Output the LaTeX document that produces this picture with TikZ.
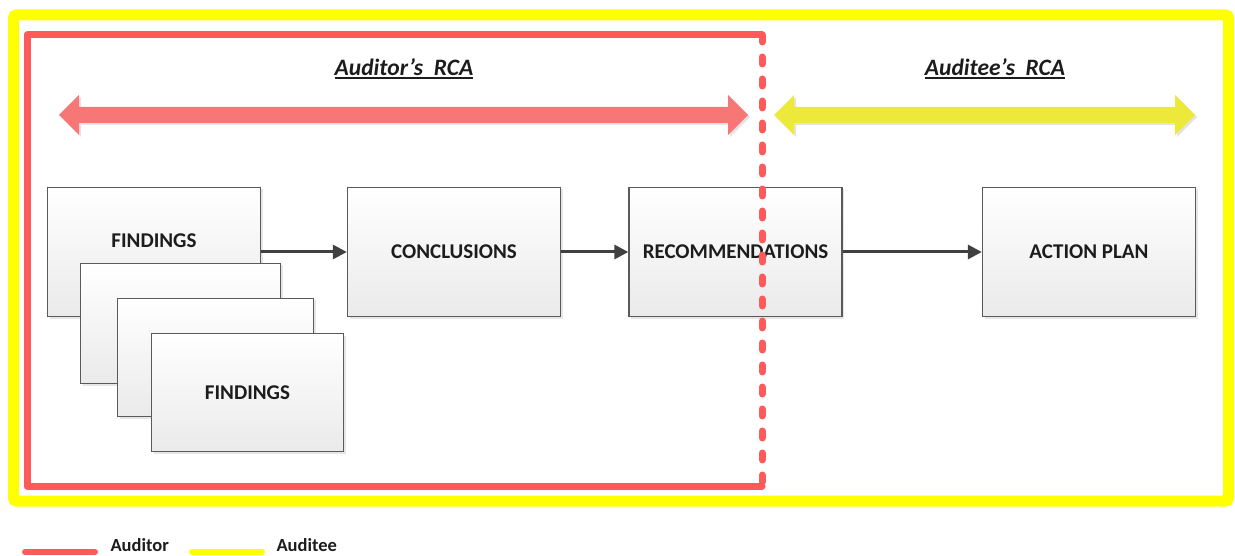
\documentclass[tikz,border=0pt]{standalone}
\usepackage{fontspec}
\setmainfont{Carlito}
\usetikzlibrary{arrows.meta,shadows}

\definecolor{frameyellow}{HTML}{FFFF00}
\definecolor{auditred}{HTML}{FF5A5A}
\definecolor{redband}{HTML}{F77676}
\definecolor{yellowband}{HTML}{ECE93A}
\definecolor{boxline}{HTML}{5A5A5A}
\definecolor{boxgray}{HTML}{EAEAEA}
\definecolor{flowarrow}{HTML}{404040}
\definecolor{ink}{HTML}{1C1C1C}

% double-headed band arrow: left tip x, right tip x, centre y
\newcommand\bandarrow[4]{%
  \fill[#4, drop shadow={opacity=0.22, shadow xshift=2pt, shadow yshift=-2pt}]
    (#1,#3) -- ++(20,-20) -- ++(0,12) -- (#2-20,#3-8) -- ++(0,-12)
    -- (#2,#3) -- (#2-20,#3+20) -- ++(0,-12) -- (#1+20,#3+8) -- ++(0,12) -- cycle;}

% heading with a heavier rule underneath
\newcommand\headrule[1]{\setbox0\hbox{#1}\leavevmode\rlap{\rule[-3.2pt]{\wd0}{1.6pt}}\box0}

\begin{document}
\begin{tikzpicture}[x=1pt, y=-1pt,
  boxtext/.style={font=\fontsize{21}{25}\selectfont\bfseries, text=ink},
  stepbox/.style={draw=boxline, line width=1.3pt, top color=white, bottom color=boxgray,
    inner sep=0pt, boxtext,
    drop shadow={opacity=0.2, shadow xshift=2pt, shadow yshift=-2pt}},
  bigbox/.style={stepbox, minimum width=213pt, minimum height=129pt},
  flow/.style={draw=flowarrow, line width=3pt, -{Triangle[length=14pt, width=14pt]}},
  title/.style={font=\fontsize{23.5}{27}\selectfont\bfseries\itshape, text=ink},
  legendtext/.style={font=\fontsize{18.5}{22}\selectfont\bfseries, text=ink, anchor=west},
  legendline/.style={line width=6pt, line cap=round}
]
\useasboundingbox (0,0) rectangle (1235,556);

% outer auditee frame
\draw[frameyellow, line width=11pt, rounded corners=3pt] (13.5,15) rectangle (1228.5,501);

% auditor frame, open side drawn dashed later
\draw[auditred, line width=7pt, line cap=round, line join=round]
  (762,35) -- (27,35) -- (27,486) -- (762,486);

% section titles
\node[title] (auditorT) at (404,69) {\headrule{Auditor’s~~RCA}};
\node[title] (auditeeT) at (995,69) {\headrule{Auditee’s~~RCA}};

% scope bands
\bandarrow{59}{748}{115}{redband}
\bandarrow{774}{1195}{115}{yellowband}

% stacked findings
\node[bigbox, label={[boxtext, yshift=11pt]center:FINDINGS}] (find1) at (154,252) {};
\node[stepbox, minimum width=200pt, minimum height=120pt] (find2) at (180.5,323.5) {};
\node[stepbox, minimum width=196pt, minimum height=118pt] (find3) at (215.5,357.5) {};
\node[stepbox, minimum width=192pt, minimum height=118pt] (find4) at (247.5,392.5) {FINDINGS};

% process steps
\node[bigbox] (concl) at (454,252) {CONCLUSIONS};
\node[bigbox] (recom) at (735.5,252) {RECOMMENDATIONS};
\node[bigbox] (plan) at (1089,252) {ACTION PLAN};

\draw[flow] (find1.east) -- (concl.west);
\draw[flow] (concl.east) -- (recom.west);
\draw[flow] (recom.east) -- (plan.west);

% boundary between auditor and auditee
\draw[auditred, line width=7pt, line cap=round, dash pattern=on 7pt off 15pt]
  (762,35) -- (762,486);

% legend
\coordinate (redA) at (25,552);
\coordinate (redB) at (95,552);
\coordinate (yelA) at (192,552);
\coordinate (yelB) at (262,552);
\draw[legendline, auditred] (redA) -- (redB);
\draw[legendline, frameyellow] (yelA) -- (yelB);
\node[legendtext] (auditorL) at (107,545) {Auditor};
\node[legendtext] (auditeeL) at (273,545) {Auditee};
\end{tikzpicture}
\end{document}
